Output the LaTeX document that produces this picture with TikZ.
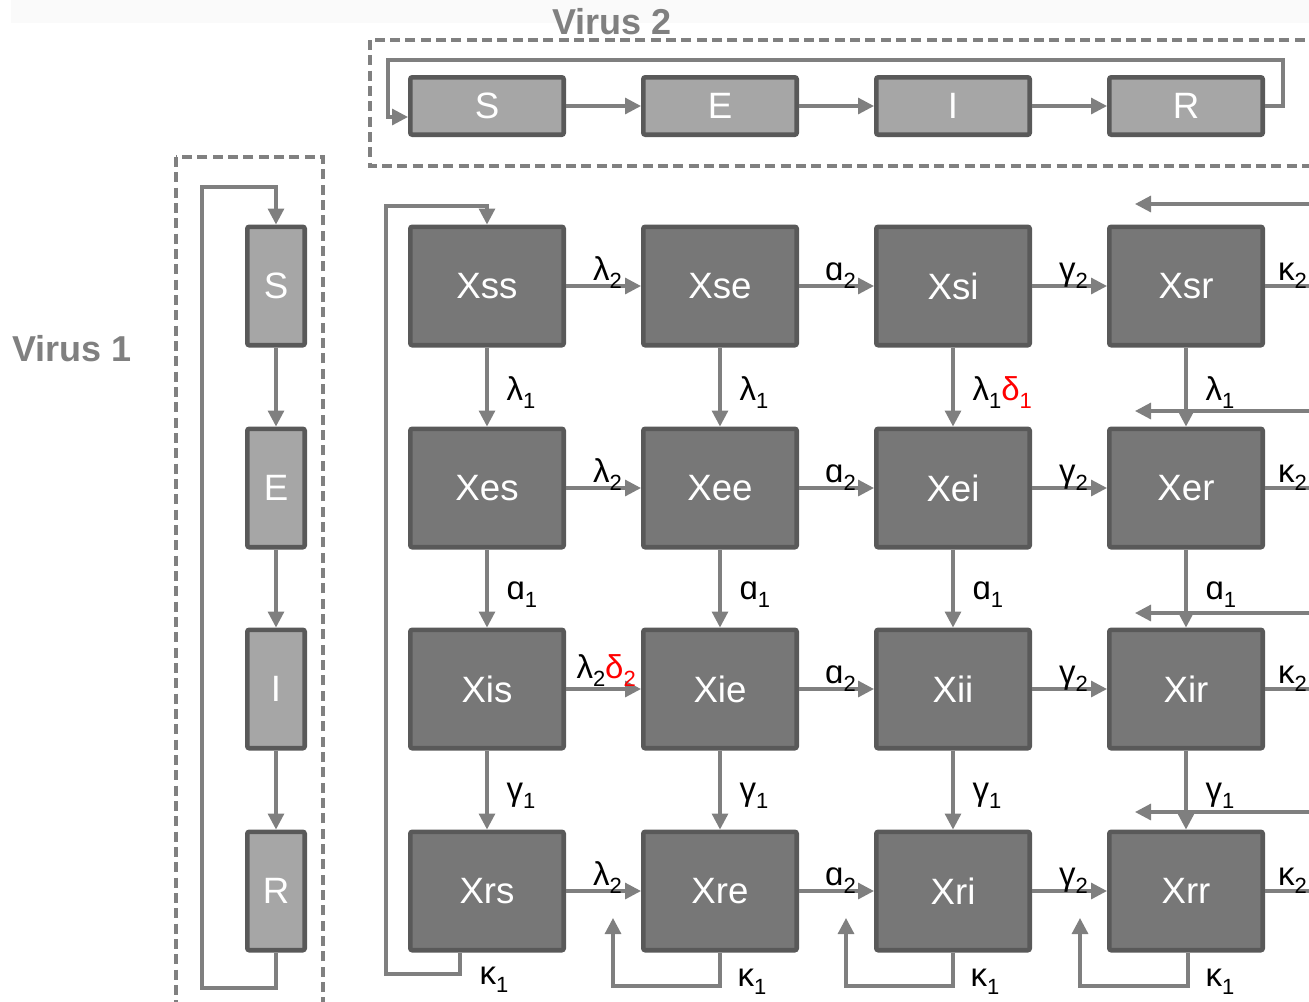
\documentclass[tikz,border=0pt]{standalone}
\usepackage{fontspec}
\setmainfont{Liberation Sans}
\usetikzlibrary{arrows.meta,calc}
\definecolor{boxfill}{HTML}{777777}
\definecolor{boxline}{HTML}{595959}
\definecolor{lightfill}{HTML}{A6A6A6}
\definecolor{arrcol}{HTML}{7F7F7F}
\definecolor{dashcol}{HTML}{808080}
\definecolor{bandcol}{HTML}{FAFAFA}
\newcommand\sbx[1]{\raisebox{-6pt}{\fontsize{16.5}{18}\selectfont #1}}
\newcommand\rd[1]{\textcolor{red}{#1}}
\begin{document}
\begin{tikzpicture}[x=0.75pt,y=-0.75pt,
 gbox/.style={draw=boxline, fill=boxfill, line width=3.5pt, rounded corners=1.5pt,
   minimum width=115pt, minimum height=88.75pt, text=white,
   font=\fontsize{27.5}{30}\selectfont, inner sep=0pt},
 hbox/.style={gbox, fill=lightfill, minimum height=43pt},
 vbox/.style={gbox, fill=lightfill, minimum width=43pt},
 arr/.style={draw=arrcol, line width=2.4pt, -{Triangle[length=12pt,width=12pt]}},
 ln/.style={draw=arrcol, line width=2.4pt},
 lab/.style={font=\fontsize{24.75}{28}\selectfont, inner sep=0pt, text=black},
 hl/.style={lab, above, xshift=3pt, yshift=-3pt},
 vl/.style={lab, right, xshift=13.5pt, yshift=-4.5pt},
 kl/.style={lab, anchor=west},
 dbox/.style={draw=dashcol, line width=2.4pt, dash pattern=on 7.5pt off 4pt},
 vtitle/.style={font=\bfseries\fontsize{27}{30}\selectfont, text=dashcol, inner sep=0pt},
]
\useasboundingbox (0,0) rectangle (1309,1001);
\fill[bandcol] (11,0) rectangle (1309,23);

% dashed frames
\draw[dbox] (370,40) rectangle (1340,166);
\draw[dbox] (176,157) rectangle (323,1030);
\node[vtitle] (v2) at (612,22) {Virus 2};
\node[vtitle] (v1) at (72,349) {Virus 1};

% Virus 2 chain
\node[hbox] (S2) at (487,106) {S};
\node[hbox] (E2) at (720,106) {E};
\node[hbox] (I2) at (953,106) {I};
\node[hbox] (R2) at (1186,106) {R};
\draw[arr] (S2) -- (E2);
\draw[arr] (E2) -- (I2);
\draw[arr] (I2) -- (R2);
\coordinate (v2a) at (1283,106);
\coordinate (v2b) at (388,60);
\draw[arr] (R2.east) -- (v2a) |- (v2b) |- ($(S2.west)+(0,11)$);

% Virus 1 chain
\node[vbox] (S1) at (276,286) {S};
\node[vbox] (E1) at (276,488) {E};
\node[vbox] (I1) at (276,689) {I};
\node[vbox] (R1) at (276,891) {R};
\draw[arr] (S1) -- (E1);
\draw[arr] (E1) -- (I1);
\draw[arr] (I1) -- (R1);
\coordinate (v1a) at (276,988);
\coordinate (v1b) at (202,187);
\draw[arr] (R1.south) -- (v1a) -| (v1b) -| (S1.north);

% grid
\foreach \r/\y in {s/286,e/488,i/689,r/891}{
  \foreach \c/\x in {s/487,e/720,i/953,r/1186}{
    \node[gbox] (\r\c) at (\x,\y) {X\r\c};
  }
}

% horizontal arrows
\draw[arr] (ss) -- node[hl]{λ\sbx{2}} (se);
\draw[arr] (se) -- node[hl]{ɑ\sbx{2}} (si);
\draw[arr] (si) -- node[hl]{γ\sbx{2}} (sr);
\draw[arr] (es) -- node[hl]{λ\sbx{2}} (ee);
\draw[arr] (ee) -- node[hl]{ɑ\sbx{2}} (ei);
\draw[arr] (ei) -- node[hl]{γ\sbx{2}} (er);
\draw[arr] (is) -- node[hl, xshift=-1pt, yshift=4pt]{λ\sbx{2}\rd{δ\sbx{2}}} (ie);
\draw[arr] (ie) -- node[hl]{ɑ\sbx{2}} (ii);
\draw[arr] (ii) -- node[hl]{γ\sbx{2}} (ir);
\draw[arr] (rs) -- node[hl]{λ\sbx{2}} (re);
\draw[arr] (re) -- node[hl]{ɑ\sbx{2}} (ri);
\draw[arr] (ri) -- node[hl]{γ\sbx{2}} (rr);

% kappa2 outgoing lines to the right edge
\foreach \r/\y in {s/286,e/488,i/689,r/891}{
  \coordinate (k2\r) at (1330,\y);
  \draw[ln] (\r r.east) -- node[hl, pos=0.36, xshift=0pt]{κ\sbx{2}} (k2\r);
}

% incoming arrows from the right edge
\foreach \n/\y in {a/204,b/411,c/613,d/812}{
  \coordinate (in\n) at (1330,\y);
  \coordinate (tip\n) at (1135,\y);
  \draw[arr] (in\n) -- (tip\n);
}

% vertical arrows
\foreach \c in {s,e,r}{
  \draw[arr] (s\c) -- node[vl]{λ\sbx{1}} (e\c);
}
\draw[arr] (si) -- node[vl]{λ\sbx{1}\rd{δ\sbx{1}}} (ei);
\foreach \c in {s,e,i,r}{
  \draw[arr] (e\c) -- node[vl]{ɑ\sbx{1}} (i\c);
  \draw[arr] (i\c) -- node[vl]{γ\sbx{1}} (r\c);
}

% kappa1 loops
\coordinate (ka) at (460,974);
\coordinate (kb) at (386,206);
\draw[arr] ($(rs.south)+(-27,0)$) -- node[kl, pos=1, xshift=13.5pt, yshift=-4.5pt]{κ\sbx{1}} (ka) -| (kb) -| (ss.north);
\foreach \c/\x/\bx in {e/720/613,i/953/846,r/1188/1080}{
  \coordinate (ka\c) at (\x,986);
  \coordinate (kb\c) at (\bx,918);
  \draw[arr] (r\c.south -| ka\c) -- node[kl, pos=1, xshift=12pt, yshift=3.5pt]{κ\sbx{1}} (ka\c) -| (kb\c);
}
\end{tikzpicture}
\end{document}
